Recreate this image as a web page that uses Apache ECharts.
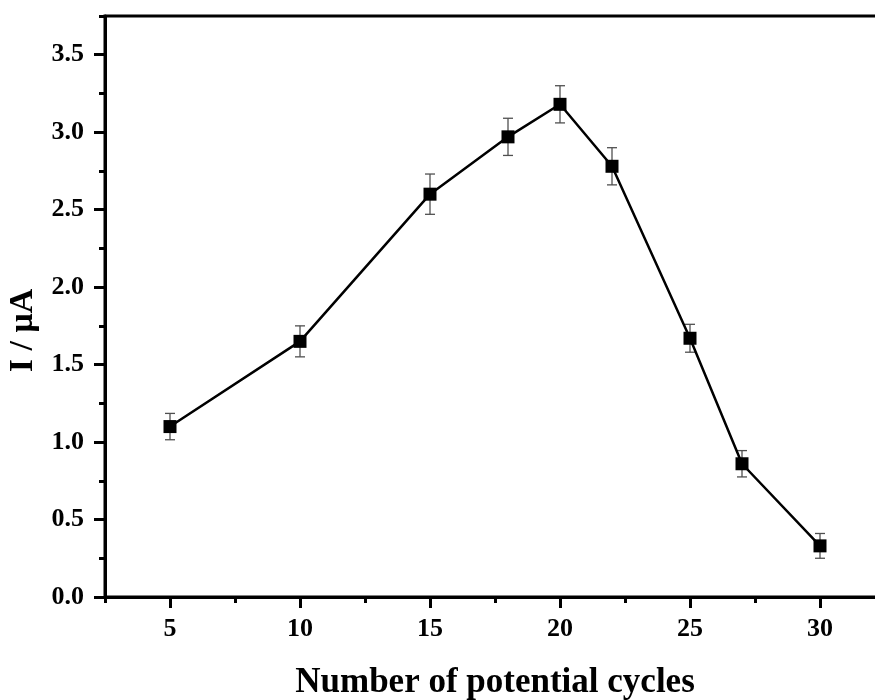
<!DOCTYPE html>
<html>
<head>
<meta charset="utf-8">
<title>Current vs. number of potential cycles</title>
<script src="https://cdn.jsdelivr.net/npm/echarts@6/dist/echarts.min.js"></script>
<style>
  html, body { margin: 0; padding: 0; background: #ffffff; }
  #chart { width: 875px; height: 700px; }
</style>
</head>
<body>
<div id="chart"></div>
<script>
// Measured peak current for each number of electropolymerisation cycles
const cycles = [5, 10, 15, 18, 20, 22, 25, 27, 30];
const current = [1.10, 1.65, 2.60, 2.97, 3.18, 2.78, 1.67, 0.86, 0.33];
const errors = [0.085, 0.10, 0.13, 0.12, 0.12, 0.12, 0.09, 0.085, 0.08];

// Axis ticks
const xMajorTicks = [5, 10, 15, 20, 25, 30];
const xMinorTicks = [2.5, 7.5, 12.5, 17.5, 22.5, 27.5];
const yMajorTicks = [0, 0.5, 1.0, 1.5, 2.0, 2.5, 3.0, 3.5];
const yMinorTicks = [0.25, 0.75, 1.25, 1.75, 2.25, 2.75, 3.25];

const FONT = '"Liberation Serif", "Times New Roman", serif';
const INK = '#000000';

const chart = echarts.init(document.getElementById('chart'), null, { renderer: 'canvas' });

const points = cycles.map((c, i) => [c, current[i]]);
const bars = cycles.map((c, i) => [c, current[i] - errors[i], current[i] + errors[i]]);

const labelStyle = { fontFamily: FONT, fontWeight: 'bold', fontSize: 26, color: INK };

const option = {
  backgroundColor: '#ffffff',
  animation: false,
  grid: {
    left: 105, right: -10, top: 16, bottom: 103,
    containLabel: false, outerBoundsMode: 'none',
    show: true, borderColor: INK, borderWidth: 3, backgroundColor: 'transparent'
  },
  xAxis: [
    {
      type: 'value', min: 2.5, max: 32.5, position: 'bottom',
      name: 'Number of potential cycles', nameLocation: 'middle', nameGap: 68,
      nameTextStyle: { fontFamily: FONT, fontWeight: 'bold', fontSize: 35, color: INK },
      axisLine: { show: true, onZero: false, lineStyle: { color: INK, width: 3 } },
      axisTick: { show: true, inside: false, length: 11, customValues: xMajorTicks, lineStyle: { color: INK, width: 3 } },
      axisLabel: Object.assign({ margin: 19, customValues: xMajorTicks, formatter: v => String(v) }, labelStyle),
      splitLine: { show: false }
    },
    {
      type: 'value', min: 2.5, max: 32.5, position: 'bottom',
      axisLine: { show: false },
      axisTick: { show: true, inside: false, length: 6, customValues: xMinorTicks, lineStyle: { color: INK, width: 3 } },
      axisLabel: { show: false },
      splitLine: { show: false }
    }
  ],
  yAxis: [
    {
      type: 'value', min: 0, max: 3.75, position: 'left',
      name: 'I / μA', nameLocation: 'middle', nameGap: 62, nameRotate: 90,
      nameTextStyle: { fontFamily: FONT, fontWeight: 'bold', fontSize: 34, color: INK, padding: [0, 48, 0, 0] },
      axisLine: { show: true, onZero: false, lineStyle: { color: INK, width: 3 } },
      axisTick: { show: true, inside: false, length: 11, customValues: yMajorTicks, lineStyle: { color: INK, width: 3 } },
      axisLabel: Object.assign({ margin: 21, customValues: yMajorTicks, formatter: v => v.toFixed(1) }, labelStyle),
      splitLine: { show: false }
    },
    {
      type: 'value', min: 0, max: 3.75, position: 'left',
      axisLine: { show: false },
      axisTick: { show: true, inside: false, length: 6, customValues: yMinorTicks.concat([3.75]), lineStyle: { color: INK, width: 3 } },
      axisLabel: { show: false },
      splitLine: { show: false }
    }
  ],
  series: [
    {
      type: 'custom',
      xAxisIndex: 0, yAxisIndex: 0,
      data: bars,
      z: 3,
      renderItem: function (params, api) {
        const x = api.value(0);
        const lo = api.coord([x, api.value(1)]);
        const hi = api.coord([x, api.value(2)]);
        const cap = 5;
        const style = { stroke: '#505050', lineWidth: 1.3 };
        return {
          type: 'group',
          children: [
            { type: 'line', shape: { x1: lo[0], y1: lo[1], x2: hi[0], y2: hi[1] }, style },
            { type: 'line', shape: { x1: lo[0] - cap, y1: lo[1], x2: lo[0] + cap, y2: lo[1] }, style },
            { type: 'line', shape: { x1: hi[0] - cap, y1: hi[1], x2: hi[0] + cap, y2: hi[1] }, style }
          ]
        };
      }
    },
    {
      type: 'line',
      xAxisIndex: 0, yAxisIndex: 0,
      data: points,
      z: 4,
      symbol: 'rect',
      symbolSize: 13,
      showAllSymbol: true,
      lineStyle: { color: INK, width: 2.5 },
      itemStyle: { color: INK, borderWidth: 0 }
    }
  ]
};

chart.setOption(option);
</script>
</body>
</html>
